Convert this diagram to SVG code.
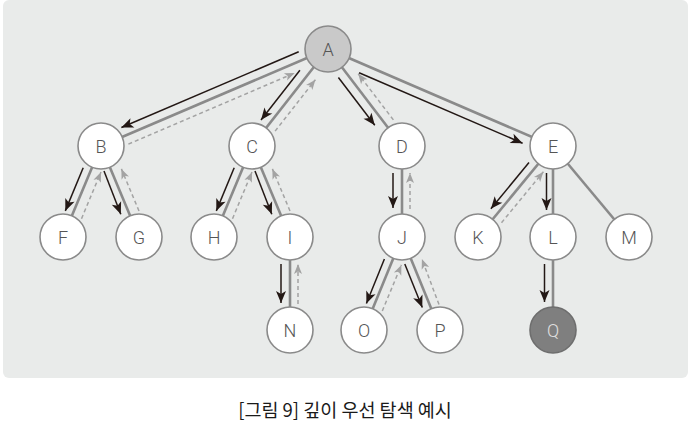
<svg xmlns="http://www.w3.org/2000/svg" width="688" height="426" viewBox="0 0 688 426">
<style>
.edge{stroke:#8a8a8a;stroke-width:2.6;fill:none}
.fwd{stroke:#231815;stroke-width:1.5;fill:none;marker-end:url(#ah)}
.back{stroke:#a3a3a3;stroke-width:1.5;fill:none;stroke-dasharray:4 3;marker-end:url(#ahg)}
.node circle{fill:#fff;stroke:#8a8a8a;stroke-width:1.6}
.node text{font-family:Roboto,"Liberation Sans",sans-serif;font-weight:300;font-size:18px;fill:#555;text-anchor:middle}
.caption{font-family:"Noto Sans CJK KR","Noto Sans",sans-serif;font-size:18.5px;fill:#1a1a1a;text-anchor:middle}
</style>
<defs>
<marker id="ah" markerUnits="userSpaceOnUse" markerWidth="14" markerHeight="12" refX="12" refY="5" orient="auto" overflow="visible">
<path d="M0,0 L12,5 L0,10 L3,5 Z" fill="#231815"/>
</marker>
<marker id="ahg" markerUnits="userSpaceOnUse" markerWidth="12" markerHeight="10" refX="10" refY="4" orient="auto" overflow="visible">
<path d="M0,0 L10,4 L0,8 L2.5,4 Z" fill="#a3a3a3"/>
</marker>
</defs>
<rect x="3" y="0" width="685" height="378" rx="6" fill="#e9ebea"/>
<g id="connectors">
<line class="edge" x1="328" y1="49" x2="101" y2="146"/>
<line class="edge" x1="328" y1="49" x2="252" y2="146"/>
<line class="edge" x1="328" y1="49" x2="402" y2="146"/>
<line class="edge" x1="328" y1="49" x2="553" y2="146"/>
<line class="edge" x1="101" y1="146" x2="63" y2="237"/>
<line class="edge" x1="101" y1="146" x2="139" y2="237"/>
<line class="edge" x1="252" y1="146" x2="214" y2="237"/>
<line class="edge" x1="252" y1="146" x2="290" y2="237"/>
<line class="edge" x1="290" y1="237" x2="290" y2="330"/>
<line class="edge" x1="402" y1="146" x2="402" y2="237"/>
<line class="edge" x1="402" y1="237" x2="364" y2="330"/>
<line class="edge" x1="402" y1="237" x2="440" y2="330"/>
<line class="edge" x1="553" y1="146" x2="478" y2="237"/>
<line class="edge" x1="553" y1="146" x2="553" y2="237"/>
<line class="edge" x1="553" y1="146" x2="629" y2="237"/>
<line class="edge" x1="553" y1="237" x2="553" y2="330"/>

<line class="fwd" x1="298.7" y1="51.7" x2="121.4" y2="127.5"/>
<line class="back" x1="128.4" y1="144.1" x2="294.7" y2="73"/>
<line class="fwd" x1="299.9" y1="70.2" x2="261" y2="120"/>
<line class="back" x1="275.1" y1="131.1" x2="315.4" y2="79.7"/>
<line class="fwd" x1="338.4" y1="77.5" x2="374.8" y2="125.2"/>
<line class="back" x1="393.4" y1="119.9" x2="358.2" y2="73.8"/>
<line class="fwd" x1="359.1" y1="72.8" x2="522.6" y2="143.2"/>

<line class="fwd" x1="83.2" y1="167.8" x2="65.3" y2="210.9"/>
<line class="back" x1="81.5" y1="218.7" x2="101" y2="172"/>
<line class="fwd" x1="104" y1="171" x2="120.8" y2="214.2"/>
<line class="back" x1="139" y1="211" x2="121.4" y2="168.9"/>
<line class="fwd" x1="234.2" y1="167.8" x2="216.3" y2="210.9"/>
<line class="back" x1="232.5" y1="218.7" x2="252" y2="172"/>
<line class="fwd" x1="255" y1="171" x2="271.8" y2="214.2"/>
<line class="back" x1="290" y1="211" x2="272.4" y2="168.9"/>
<line class="fwd" x1="281" y1="264" x2="281" y2="303"/>
<line class="back" x1="298" y1="304" x2="298" y2="264"/>
<line class="fwd" x1="393" y1="173" x2="393" y2="208"/>
<line class="back" x1="410" y1="209" x2="410" y2="173"/>
<line class="fwd" x1="384.4" y1="259" x2="366.4" y2="303.5"/>
<line class="back" x1="382.3" y1="311" x2="401.4" y2="264.9"/>
<line class="fwd" x1="404.8" y1="264" x2="422.3" y2="307.5"/>
<line class="back" x1="439" y1="304.5" x2="421.9" y2="259.1"/>
<line class="fwd" x1="529" y1="162.5" x2="490.9" y2="208.8"/>
<line class="back" x1="501.5" y1="222.7" x2="543.4" y2="171.8"/>
<line class="fwd" x1="546.5" y1="173" x2="546.5" y2="210"/>
<line class="fwd" x1="544.5" y1="264" x2="544.5" y2="302"/>
</g>
<g id="A" class="node"><circle cx="328" cy="49" r="23" style="fill:#c9c9c9"/><text x="328" y="55.5">A</text></g>
<g id="B" class="node"><circle cx="101" cy="146" r="23"/><text x="101" y="152.5">B</text></g>
<g id="C" class="node"><circle cx="252" cy="146" r="23"/><text x="252" y="152.5">C</text></g>
<g id="D" class="node"><circle cx="402" cy="146" r="23"/><text x="402" y="152.5">D</text></g>
<g id="E" class="node"><circle cx="553" cy="146" r="23"/><text x="553" y="152.5">E</text></g>
<g id="F" class="node"><circle cx="63" cy="237" r="23"/><text x="63" y="243.5">F</text></g>
<g id="G" class="node"><circle cx="139" cy="237" r="23"/><text x="139" y="243.5">G</text></g>
<g id="H" class="node"><circle cx="214" cy="237" r="23"/><text x="214" y="243.5">H</text></g>
<g id="I" class="node"><circle cx="290" cy="237" r="23"/><text x="290" y="243.5">I</text></g>
<g id="J" class="node"><circle cx="402" cy="237" r="23"/><text x="402" y="243.5">J</text></g>
<g id="K" class="node"><circle cx="478" cy="237" r="23"/><text x="478" y="243.5">K</text></g>
<g id="L" class="node"><circle cx="553" cy="237" r="23"/><text x="553" y="243.5">L</text></g>
<g id="M" class="node"><circle cx="629" cy="237" r="23"/><text x="629" y="243.5">M</text></g>
<g id="N" class="node"><circle cx="290" cy="330" r="23"/><text x="290" y="336.5">N</text></g>
<g id="O" class="node"><circle cx="364" cy="330" r="23"/><text x="364" y="336.5">O</text></g>
<g id="P" class="node"><circle cx="440" cy="330" r="23"/><text x="440" y="336.5">P</text></g>
<g id="Q" class="node"><circle cx="553" cy="330" r="23" style="fill:#7f7f7f;stroke:#6e6e6e"/><text x="553" y="336.5" style="fill:#e0e0e0">Q</text></g>
<text class="caption" x="345" y="417">[그림 9] 깊이 우선 탐색 예시</text>
</svg>
